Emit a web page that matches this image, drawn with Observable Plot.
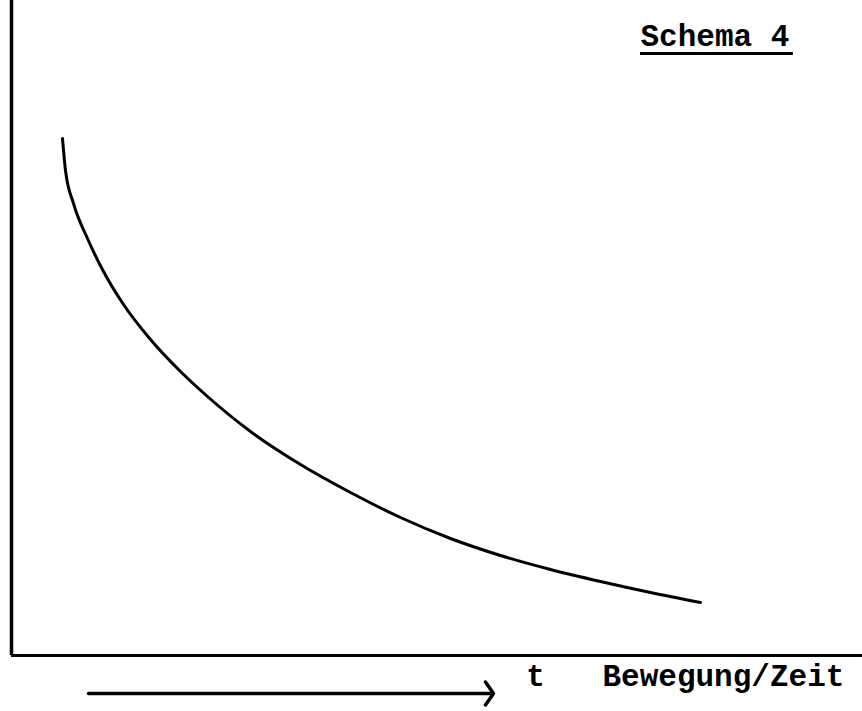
<!DOCTYPE html>
<html>
<head>
<meta charset="utf-8">
<script src="https://cdn.jsdelivr.net/npm/d3@7"></script>
<script src="https://cdn.jsdelivr.net/npm/@observablehq/plot@0.6"></script>
<style>
  html, body { margin: 0; padding: 0; background: #fff; }
  #chart svg { display: block; }
</style>
</head>
<body>
<div id="chart"></div>
<script>
// Schematic curve: movement / time (t) vs. quantity
const curveT = [51, 54, 62, 76, 92, 112, 139, 169, 196, 239, 289, 339, 389, 439, 489, 539, 589, 639, 689];
const curveV = [517, 485, 452, 417, 384, 351, 316, 284, 259, 224, 191, 163, 138, 117, 100, 86, 74, 63, 53];

const titleText = ["Schema 4"];
const axisSymbol = ["t"];
const axisLabel = ["Bewegung/Zeit"];

const curve = curveT.map((t, i) => ({t, v: curveV[i]}));

const font = "'Liberation Mono', 'Courier New', monospace";

const chart = Plot.plot({
  width: 862,
  height: 711,
  marginLeft: 11,
  marginRight: 0,
  marginTop: 0,
  marginBottom: 56,
  x: {domain: [0, 851], axis: null},
  y: {domain: [0, 655], axis: null},
  style: {background: "#fff", fontFamily: font},
  marks: [
    Plot.ruleX([0], {stroke: "#000", strokeWidth: 3.5}),
    Plot.ruleY([0], {stroke: "#000", strokeWidth: 3}),
    Plot.line(curve, {x: "t", y: "v", curve: "monotone-x", stroke: "#000", strokeWidth: 3}),
    // title with underline
    Plot.text(titleText, {x: 629, y: 610, text: d => d, textAnchor: "start", lineAnchor: "bottom",
      fontSize: 31, fontWeight: "bold", fontFamily: font, fill: "#000"}),
    Plot.ruleY([602], {x1: 629, x2: 782, stroke: "#000", strokeWidth: 3}),
    // below-axis annotation
    Plot.arrow([0], {x1: 77, x2: 482, y1: -38, y2: -38, stroke: "#000", strokeWidth: 3.5,
      headLength: 6, headAngle: 110}),
    Plot.text(axisSymbol, {x: 524, y: -30, text: d => d, textAnchor: "middle", lineAnchor: "bottom",
      fontSize: 31, fontWeight: "bold", fontFamily: font, fill: "#000"}),
    Plot.text(axisLabel, {x: 591, y: -30, text: d => d, textAnchor: "start", lineAnchor: "bottom",
      fontSize: 31, fontWeight: "bold", fontFamily: font, fill: "#000"})
  ]
});

document.getElementById("chart").appendChild(chart);
</script>
</body>
</html>
